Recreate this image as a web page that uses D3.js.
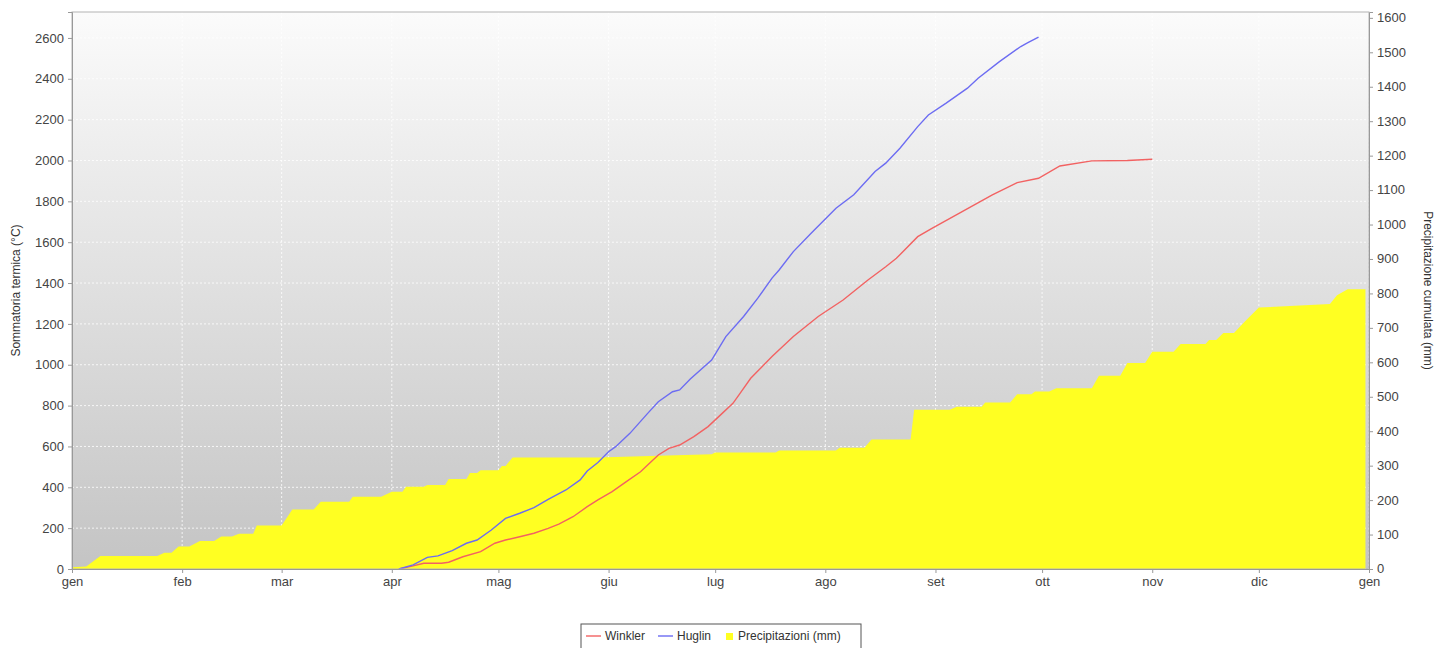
<!DOCTYPE html>
<html>
<head>
<meta charset="utf-8">
<script src="https://d3js.org/d3.v7.min.js"></script>
<style>
  body { margin: 0; background: #fff; }
  svg { display: block; font-family: "Liberation Sans", Arial, sans-serif; }
  .tick text { fill: #444; font-size: 13px; }
</style>
</head>
<body>
<script>
// month tick labels (italian)
const monthLabels = ["gen","feb","mar","apr","mag","giu","lug","ago","set","ott","nov","dic"];

// day of year (0 = 1 jan) and cumulated values
const winklerDays = [92,96,99,104,106,110,115,119,122,126,130,134,137,141,145,148,152,156,160,162,165,168,171,175,179,182,186,188,191,197,203,210,217,224,229,232,238,242,250,259,266,272,278,287,297,304];
const winklerVals = [0,15,28,28,33,60,85,126,142,158,175,199,220,256,305,338,379,428,476,509,558,591,607,648,697,746,811,860,934,1040,1138,1236,1317,1415,1480,1521,1627,1668,1745,1832,1892,1913,1973,1998,2000,2006];

const huglinDays = [92,96,100,103,107,111,114,118,122,126,130,134,139,143,145,148,151,153,157,162,165,169,171,174,180,184,189,193,197,199,203,208,215,220,226,229,233,238,241,246,252,255,261,267,269,272];
const huglinVals = [0,20,57,64,90,126,142,191,248,273,300,341,387,436,480,521,574,599,664,762,819,868,877,930,1023,1138,1236,1326,1424,1464,1554,1644,1766,1832,1946,1987,2060,2166,2223,2281,2354,2403,2484,2558,2577,2604];

const rainDays = [0,4,8,24,26,28,30,33,36,40,42,45,47,51,52,59,62,68,70,78,79,87,90,93,94,99,100,105,106,111,112,114,115,120,121,122,124,148,170,180,181,198,199,215,216,223,225,236,237,247,249,256,257,264,266,270,271,275,277,287,289,295,297,302,304,310,312,319,320,322,324,327,330,334,354,356,359,364];
const rainVals = [5,7,38,38,47,47,65,65,81,81,94,94,102,102,126,126,173,173,195,195,210,210,224,224,239,239,244,244,261,261,279,279,287,287,299,299,324,324,330,333,338,338,344,344,352,352,376,376,462,462,471,471,483,483,507,507,515,515,525,525,561,561,598,598,631,631,653,653,665,665,685,685,718,759,769,795,812,812];

const leftTicks = d3.range(0, 2601, 200);
const rightTicks = d3.range(0, 1601, 100);

const W = 1447, H = 648;
const m = {left: 72, right: 1369, top: 12, bottom: 569};
const year0 = new Date(2023, 0, 1);
const dayDate = d => d3.timeDay.offset(year0, d);

const x = d3.scaleTime().domain([year0, new Date(2024, 0, 1)]).range([m.left, m.right]);
const yL = d3.scaleLinear().domain([0, 2727]).range([m.bottom, m.top]);
const yR = d3.scaleLinear().domain([0, 1617]).range([m.bottom, m.top]);

const svg = d3.select("body").append("svg").attr("width", W).attr("height", H);

const grad = svg.append("defs").append("linearGradient")
  .attr("id", "bg").attr("x1", 0).attr("y1", 0).attr("x2", 0).attr("y2", 1);
grad.append("stop").attr("offset", "0%").attr("stop-color", "#fbfbfb");
grad.append("stop").attr("offset", "100%").attr("stop-color", "#c4c4c4");

svg.append("rect")
  .attr("x", m.left).attr("y", m.top)
  .attr("width", m.right - m.left).attr("height", m.bottom - m.top)
  .attr("fill", "url(#bg)");

// grid
const monthTicks = d3.timeMonth.range(year0, new Date(2024, 0, 2));
svg.append("g").selectAll("line").data(monthTicks).enter().append("line")
  .attr("x1", d => x(d)).attr("x2", d => x(d))
  .attr("y1", m.top).attr("y2", m.bottom)
  .attr("stroke", "#ffffff").attr("stroke-opacity", 0.8).attr("stroke-dasharray", "2,2");
svg.append("g").selectAll("line").data(leftTicks).enter().append("line")
  .attr("x1", m.left).attr("x2", m.right)
  .attr("y1", d => yL(d)).attr("y2", d => yL(d))
  .attr("stroke", "#ffffff").attr("stroke-opacity", 0.8).attr("stroke-dasharray", "2,2");

// rain area
const rain = rainDays.map((d, i) => ({date: dayDate(d), v: rainVals[i]}));
svg.append("path").datum(rain)
  .attr("fill", "#ffff22")
  .attr("d", d3.area().x(d => x(d.date)).y0(m.bottom).y1(d => yR(d.v)));

// lines
const line = d3.line().x(d => x(d.date)).y(d => yL(d.v));
const winkler = winklerDays.map((d, i) => ({date: dayDate(d), v: winklerVals[i]}));
const huglin = huglinDays.map((d, i) => ({date: dayDate(d), v: huglinVals[i]}));
svg.append("path").datum(winkler)
  .attr("fill", "none").attr("stroke", "#f26262").attr("stroke-width", 1.4).attr("d", line);
svg.append("path").datum(huglin)
  .attr("fill", "none").attr("stroke", "#6c6cf2").attr("stroke-width", 1.4).attr("d", line);

// plot outline
svg.append("rect")
  .attr("x", m.left).attr("y", m.top)
  .attr("width", m.right - m.left).attr("height", m.bottom - m.top)
  .attr("fill", "none").attr("stroke", "#b4b4b4");

// axes
const fmt = d3.format("d");
const axL = svg.append("g").attr("transform", `translate(${m.left},0)`)
  .call(d3.axisLeft(yL).tickValues(leftTicks).tickFormat(fmt).tickSize(4).tickPadding(4));
const axR = svg.append("g").attr("transform", `translate(${m.right},0)`)
  .call(d3.axisRight(yR).tickValues(rightTicks).tickFormat(fmt).tickSize(4).tickPadding(4));
const axB = svg.append("g").attr("transform", `translate(0,${m.bottom})`)
  .call(d3.axisBottom(x).tickValues(monthTicks).tickSize(4).tickPadding(4)
    .tickFormat(d => monthLabels[d.getMonth()]));
[axL, axR, axB].forEach(a => {
  a.selectAll(".domain").attr("stroke", "#999");
  a.selectAll(".tick line").attr("stroke", "#999");
});
axR.selectAll(".tick text").attr("dy", "0.3em");

svg.append("text")
  .attr("transform", `translate(20,${(m.top + m.bottom) / 2}) rotate(-90)`)
  .attr("text-anchor", "middle").attr("font-size", 12).attr("fill", "#333")
  .text("Sommatoria termica (°C)");
svg.append("text")
  .attr("transform", `translate(1424,${(m.top + m.bottom) / 2}) rotate(90)`)
  .attr("text-anchor", "middle").attr("font-size", 12).attr("fill", "#333")
  .text("Precipitazione cumulata (mm)");

// legend
const lg = svg.append("g").attr("transform", "translate(581,624)");
lg.append("rect").attr("width", 280).attr("height", 30)
  .attr("fill", "#fff").attr("stroke", "#555");
lg.append("line").attr("x1", 5).attr("x2", 20).attr("y1", 12).attr("y2", 12)
  .attr("stroke", "#f26262").attr("stroke-width", 1.4);
lg.append("text").attr("x", 24).attr("y", 16).attr("font-size", 12).attr("fill", "#333").text("Winkler");
lg.append("line").attr("x1", 77).attr("x2", 92).attr("y1", 12).attr("y2", 12)
  .attr("stroke", "#6c6cf2").attr("stroke-width", 1.4);
lg.append("text").attr("x", 96).attr("y", 16).attr("font-size", 12).attr("fill", "#333").text("Huglin");
lg.append("rect").attr("x", 145).attr("y", 9).attr("width", 7).attr("height", 7).attr("fill", "#ffff22");
lg.append("text").attr("x", 157).attr("y", 16).attr("font-size", 12).attr("fill", "#333").text("Precipitazioni (mm)");
</script>
</body>
</html>
